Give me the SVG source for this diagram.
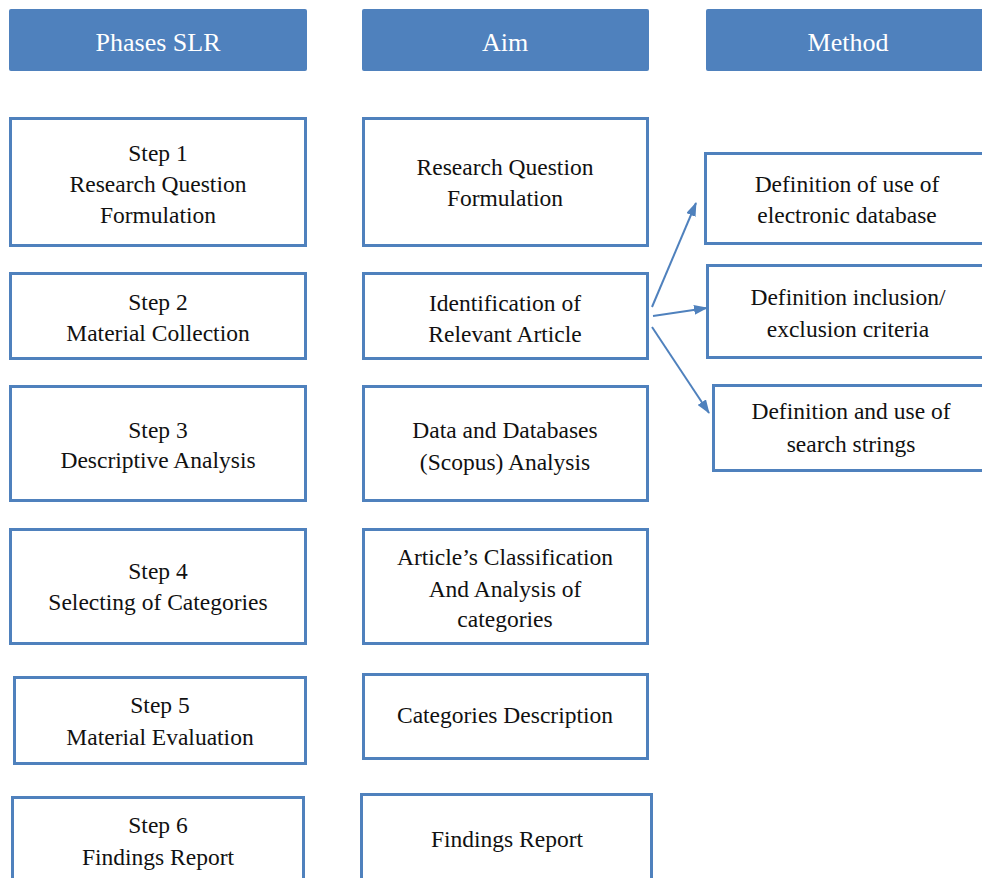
<svg xmlns="http://www.w3.org/2000/svg" width="982" height="878" viewBox="0 0 982 878">
<style>
.hdr{fill:#4f81bd;stroke:none}
.hdrt{font-family:'Liberation Serif',Tinos,'Times New Roman',Times,'Noto Serif','DejaVu Serif',serif;font-size:26px;fill:#ffffff;text-anchor:middle}
.box{fill:#ffffff;stroke:#4f81bd;stroke-width:3}
.t{font-family:'Liberation Serif',Tinos,'Times New Roman',Times,'Noto Serif','DejaVu Serif',serif;font-size:23.5px;fill:#111111;text-anchor:middle}
.conn{stroke:#4f81bd;stroke-width:2;fill:none}
</style>
<defs>
<marker id="ah" viewBox="0 0 14 10" refX="13" refY="5" markerWidth="14" markerHeight="10" markerUnits="userSpaceOnUse" orient="auto">
<path d="M0,0 L14,5 L0,10 Z" fill="#4f81bd"/>
</marker>
</defs>
<rect width="982" height="878" fill="#ffffff"/>
<g id="hdr-phases"><rect class="hdr" x="9" y="9" width="298" height="62" rx="2"/><text class="hdrt" x="158" y="51" font-family="Liberation Serif, serif">Phases  SLR</text></g>
<g id="hdr-aim"><rect class="hdr" x="362" y="9" width="287" height="62" rx="2"/><text class="hdrt" x="505" y="51">Aim</text></g>
<g id="hdr-method"><rect class="hdr" x="706" y="9" width="290" height="62" rx="2"/><text class="hdrt" x="848" y="51">Method</text></g>

<g id="step1"><rect class="box" x="10.5" y="118.5" width="295" height="127"/><text class="t" x="158" y="161">Step 1</text><text class="t" x="158" y="192">Research Question</text><text class="t" x="158" y="223">Formulation</text></g>
<g id="step2"><rect class="box" x="10.5" y="273.5" width="295" height="85"/><text class="t" x="158" y="310">Step 2</text><text class="t" x="158" y="341">Material Collection</text></g>
<g id="step3"><rect class="box" x="10.5" y="386.5" width="295" height="114"/><text class="t" x="158" y="438">Step 3</text><text class="t" x="158" y="468">Descriptive Analysis</text></g>
<g id="step4"><rect class="box" x="10.5" y="529.5" width="295" height="114"/><text class="t" x="158" y="579">Step 4</text><text class="t" x="158" y="610">Selecting of Categories</text></g>
<g id="step5"><rect class="box" x="14.5" y="677.5" width="291" height="86"/><text class="t" x="160" y="713">Step 5</text><text class="t" x="160" y="745">Material Evaluation</text></g>
<g id="step6"><rect class="box" x="12.5" y="797.5" width="291" height="100"/><text class="t" x="158" y="833">Step 6</text><text class="t" x="158" y="865">Findings Report</text></g>

<g id="aim1"><rect class="box" x="363.5" y="118.5" width="284" height="127"/><text class="t" x="505" y="175">Research Question</text><text class="t" x="505" y="206">Formulation</text></g>
<g id="aim2"><rect class="box" x="363.5" y="273.5" width="284" height="85"/><text class="t" x="505" y="311">Identification  of</text><text class="t" x="505" y="342">Relevant Article</text></g>
<g id="aim3"><rect class="box" x="363.5" y="386.5" width="284" height="114"/><text class="t" x="505" y="438">Data and Databases</text><text class="t" x="505" y="470">(Scopus) Analysis</text></g>
<g id="aim4"><rect class="box" x="363.5" y="529.5" width="284" height="114"/><text class="t" x="505" y="565">Article’s  Classification</text><text class="t" x="505" y="597">And Analysis of</text><text class="t" x="505" y="627">categories</text></g>
<g id="aim5"><rect class="box" x="363.5" y="674.5" width="284" height="84"/><text class="t" x="505" y="723">Categories  Description</text></g>
<g id="aim6"><rect class="box" x="361.5" y="794.5" width="290" height="100"/><text class="t" x="507" y="847">Findings Report</text></g>

<g id="method1"><rect class="box" x="705.5" y="153.5" width="290" height="90"/><text class="t" x="847" y="192">Definition of use of</text><text class="t" x="847" y="223">electronic  database</text></g>
<g id="method2"><rect class="box" x="707.5" y="265.5" width="290" height="92"/><text class="t" x="848" y="305">Definition inclusion/</text><text class="t" x="848" y="337">exclusion criteria</text></g>
<g id="method3"><rect class="box" x="713.5" y="385.5" width="290" height="85"/><text class="t" x="851" y="419">Definition and use of</text><text class="t" x="851" y="452">search strings</text></g>

<g id="connectors">
<line class="conn" x1="652" y1="307" x2="696" y2="203" marker-end="url(#ah)"/>
<line class="conn" x1="653" y1="316" x2="707" y2="308" marker-end="url(#ah)"/>
<line class="conn" x1="652" y1="327" x2="709" y2="413" marker-end="url(#ah)"/>
</g>
</svg>
